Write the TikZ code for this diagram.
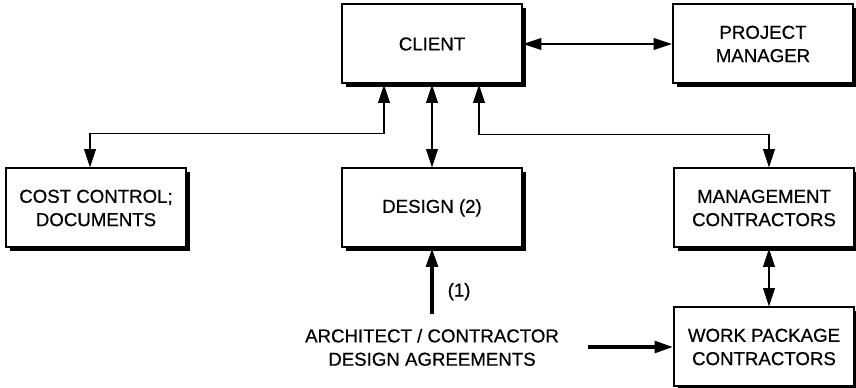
\documentclass[tikz,border=0pt]{standalone}
\usepackage{fontspec}
\setmainfont{Liberation Sans}[FakeBold=0.6]
\usetikzlibrary{arrows.meta,positioning,shadows}

\begin{document}
\begin{tikzpicture}[
  x=0.6pt, y=0.6pt,
  >={Triangle[length=11pt,width=7pt]},
  box/.style={draw, fill=white, line width=1.2pt, minimum width=108pt, minimum height=47.4pt,
              align=center, font=\fontsize{11.2}{14}\selectfont,
              drop shadow={shadow xshift=2.4pt, shadow yshift=-2.4pt, fill=black, opacity=1}},
  txt/.style={font=\fontsize{11.2}{14}\selectfont, align=center, inner sep=0pt},
  ar/.style={<->, line width=1.1pt},
  arin/.style={->, line width=2pt},
]
\useasboundingbox (0,0) rectangle (856,-388);

% Top row
\node[box] (client) at (432,-44) {CLIENT};
\node[box, right=89.4pt of client] (pm) {PROJECT\\MANAGER};
\draw[ar] (client) -- (pm);

% Second row
\node[box, below=49.8pt of client] (design) {DESIGN (2)};
\node[box, left=92.4pt of design] (cost) {COST CONTROL;\\DOCUMENTS};
\node[box, right=90pt of design] (mgmt) {MANAGEMENT\\CONTRACTORS};
\node[box, below=34.8pt of mgmt] (wp) {WORK PACKAGE\\CONTRACTORS};

% Links from the client
\draw[ar] ([xshift=-28.8pt]client.south) -- ++(0,-29.4pt) -| ([xshift=-3.6pt]cost.north);
\draw[ar] (client) -- (design);
\draw[ar] ([xshift=28.2pt]client.south) -- ++(0,-30pt) -| ([xshift=3pt]mgmt.north);
\draw[ar] ([xshift=3pt]mgmt.south) -- ([xshift=3pt]wp.north);

% Design agreements
\node[txt, below=48pt of design] (arch) {ARCHITECT / CONTRACTOR\\DESIGN AGREEMENTS};
\draw[arin, shorten <=8.4pt] (arch) -- (design)
  node[txt, pos=0.46, right=8.4pt] (one) {(1)};
\coordinate[left=51pt of wp] (wpin);
\draw[arin] (wpin) -- (wp);
\end{tikzpicture}
\end{document}
